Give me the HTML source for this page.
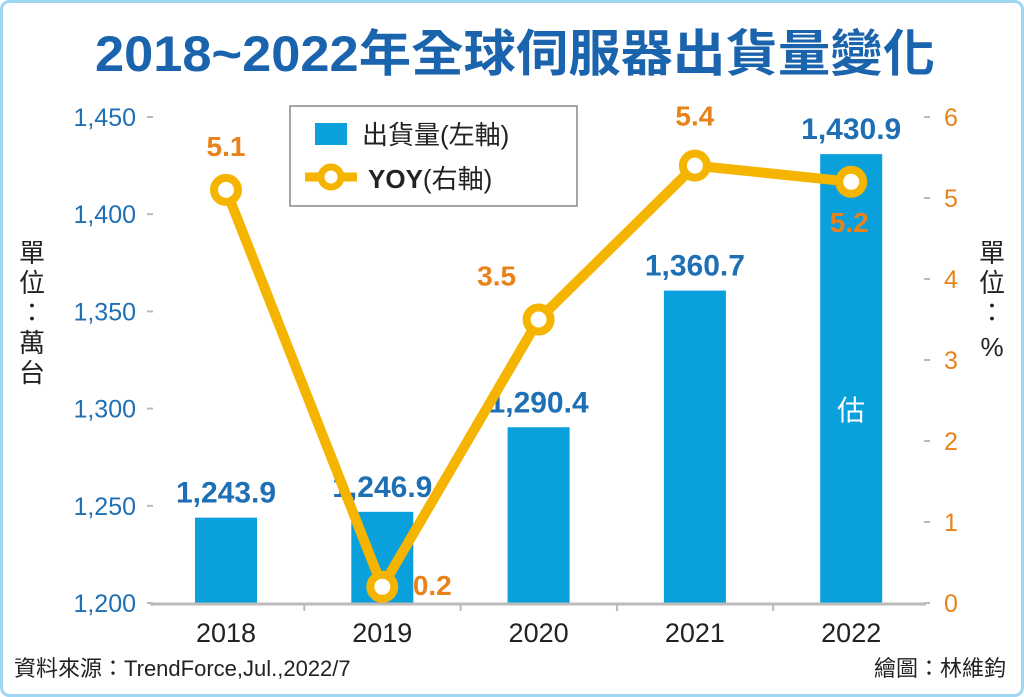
<!DOCTYPE html>
<html><head><meta charset="utf-8"><style>
body{margin:0;background:#fff}
svg{display:block}
text{font-family:"Liberation Sans","Noto Sans CJK TC",sans-serif}
</style></head><body>
<svg id="c" width="1024" height="697" viewBox="0 0 1024 697">
<rect x="1.5" y="1.5" width="1021" height="694" rx="8" fill="#fff" stroke="#9fd6f3" stroke-width="3"/>
<text x="95" y="71" textLength="840" lengthAdjust="spacingAndGlyphs" font-size="50" font-weight="bold" fill="#1a63ad">2018~2022年全球伺服器出貨量變化</text>
<g id="leftAxis"></g>
<g id="rightAxis"></g>
<g id="bars"></g>
<line x1="150" y1="604" x2="926" y2="604" stroke="#bbb" stroke-width="3"/>
<g id="xAxis"></g>
<g id="line"></g>
<text font-size="26" fill="#222" text-anchor="middle"><tspan x="32" y="262">單</tspan><tspan x="32" y="292">位</tspan><tspan x="32" y="322">：</tspan><tspan x="32" y="352">萬</tspan><tspan x="32" y="382">台</tspan></text>
<text font-size="26" fill="#222" text-anchor="middle"><tspan x="992" y="262">單</tspan><tspan x="992" y="292">位</tspan><tspan x="992" y="322">：</tspan><tspan x="992" y="356">%</tspan></text>
<g>
<rect x="290" y="106" width="287" height="100" fill="#fff" stroke="#888" stroke-width="1.5"/>
<rect x="315" y="123" width="32" height="22" fill="#0aa0dc"/>
<text x="362" y="144" font-size="26" fill="#222">出貨量(左軸)</text>
<line x1="305" y1="177" x2="357" y2="177" stroke="#f5b400" stroke-width="9"/>
<circle cx="331" cy="177" r="10" fill="#fff" stroke="#f5b400" stroke-width="7"/>
<text x="368" y="188" font-size="26" fill="#222"><tspan font-weight="bold">YOY</tspan>(右軸)</text>
</g>
<text x="851" y="420" text-anchor="middle" font-size="28" fill="#fff">估</text>
<text x="14" y="676" font-size="22" fill="#222">資料來源：TrendForce,Jul.,2022/7</text>
<text x="1006" y="676" text-anchor="end" font-size="22" fill="#222">繪圖：林維鈞</text>
</svg>
<script>
const categories=["2018","2019","2020","2021","2022"];
const shipments=[1243.9,1246.9,1290.4,1360.7,1430.9];
const shipmentLabels=["1,243.9","1,246.9","1,290.4","1,360.7","1,430.9"];
const yoy=[5.1,0.2,3.5,5.4,5.2];
const leftTicks=[1200,1250,1300,1350,1400,1450];
const leftTickLabels=["1,200","1,250","1,300","1,350","1,400","1,450"];
const rightTicks=[0,1,2,3,4,5,6];
const NS="http://www.w3.org/2000/svg";
const yL=v=>603-(v-1200)/250*486;
const yR=v=>603-v/6*486;
const xC=i=>226+i*156.3;
function mk(tag,attrs,parent,txt){const e=document.createElementNS(NS,tag);for(const k in attrs)e.setAttribute(k,attrs[k]);if(txt!==undefined)e.textContent=txt;parent.appendChild(e);return e;}
const gl=document.getElementById('leftAxis');
leftTicks.forEach((t,i)=>{
 const tx=mk('text',{x:136,y:yL(t)+9,'text-anchor':'end','font-size':'25',fill:'#1f6fb5'},gl,leftTickLabels[i]);
 
 
 mk('line',{x1:147,x2:153,y1:yL(t),y2:yL(t),stroke:'#bbb','stroke-width':2},gl);
});
const gr=document.getElementById('rightAxis');
rightTicks.forEach(t=>{
 const tx=mk('text',{x:944,y:yR(t)+9,'font-size':'25',fill:'#e8821a'},gr,String(t));
 
 
 mk('line',{x1:924,x2:930,y1:yR(t),y2:yR(t),stroke:'#bbb','stroke-width':2},gr);
});
const gb=document.getElementById('bars');
shipments.forEach((v,i)=>{
 const r=mk('rect',{x:xC(i)-31,y:yL(v),width:62,height:603-yL(v),fill:'#0aa0dc'},gb);
 
 
 const t=mk('text',{x:xC(i),y:yL(v)-15,'text-anchor':'middle','font-size':'30','font-weight':'bold',fill:'#1f6fb5',stroke:'#fff','stroke-width':'4','paint-order':'stroke'},gb,shipmentLabels[i]);
 
 
});
const gx=document.getElementById('xAxis');
categories.forEach((c,i)=>{
 const t=mk('text',{x:xC(i),y:642,'text-anchor':'middle','font-size':'27',fill:'#222'},gx,c);
 
 
 if(i>0)mk('line',{x1:xC(i)-78,x2:xC(i)-78,y1:604,y2:611,stroke:'#bbb','stroke-width':2},gx);
});
const g=document.getElementById('line');
const pl=mk('polyline',{points:yoy.map((v,i)=>xC(i)+','+yR(v)).join(' '),fill:'none',stroke:'#f5b400','stroke-width':10,'stroke-linejoin':'round'},g);


const off=[[0,-34],[50,8],[-42,-34],[0,-40],[-2,50]];
yoy.forEach((v,i)=>{
 const c=mk('circle',{cx:xC(i),cy:yR(v),r:12,fill:'#fff',stroke:'#f5b400','stroke-width':8},g);
 
 
 const t=mk('text',{x:xC(i)+off[i][0],y:yR(v)+off[i][1],'text-anchor':'middle','font-size':'28','font-weight':'bold',fill:'#e8821a'},g,v.toFixed(1));
 
 
});
</script>
</body></html>
